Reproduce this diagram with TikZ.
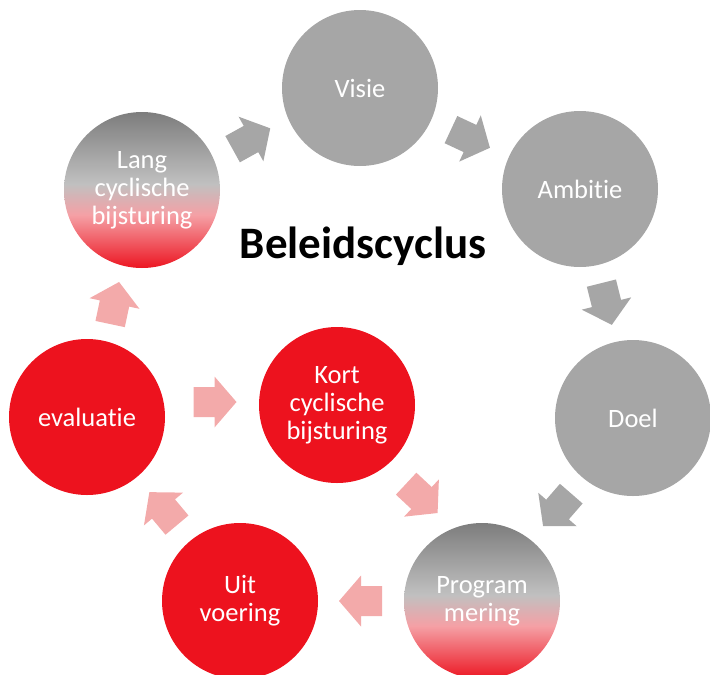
\documentclass[tikz,border=0pt]{standalone}
\usepackage{fontspec}
\setmainfont{Carlito}[Ligatures=NoCommon]
\usetikzlibrary{calc}
\definecolor{cgray}{RGB}{166,166,166}
\definecolor{cred}{RGB}{237,18,30}
\definecolor{cpink}{RGB}{243,170,170}
\definecolor{gdark}{RGB}{125,125,125}
\definecolor{glight}{RGB}{192,192,192}
\definecolor{gpink}{RGB}{245,160,165}
\definecolor{gred}{RGB}{236,22,34}
\pgfdeclareverticalshading{cyclegrad}{100bp}{color(0bp)=(gred); color(25bp)=(gred); color(42bp)=(gpink); color(52bp)=(glight); color(75bp)=(gdark); color(100bp)=(gdark)}
\tikzset{
  blockarr/.pic={\fill[pic actions] (-21,-15) -- (0,-15) -- (0,-25.5) -- (22,0) -- (0,25.5) -- (0,15) -- (-21,15) -- cycle;},
  disc/.style={circle, minimum size=156pt, inner sep=0pt, align=center, text=white,
    font=\fontsize{26.5}{28}\selectfont},
  grayc/.style={disc, fill=cgray},
  redc/.style={disc, fill=cred},
  gradc/.style={disc, shading=cyclegrad, shading angle=0},
  garr/.style={fill=cgray},
  parr/.style={fill=cpink},
  titletext/.style={font=\fontsize{45}{52}\selectfont\bfseries, text=black, anchor=base}
}
\begin{document}
\begin{tikzpicture}[x=1pt,y=-1pt]
\useasboundingbox (0,0) rectangle (710,675);
\clip (0,0) rectangle (710,675);
\node[grayc] (visie) at (360,88) {Visie};
\node[grayc] (ambitie) at (580,189) {Ambitie};
\node[grayc] (doel) at (633,418) {Doel};
\node[gradc] (prog) at (482,601) {Program\\mering};
\node[redc] (uit) at (240,601) {Uit\\voering};
\node[redc] (evaluatie) at (87,417) {evaluatie};
\node[gradc] (lang) at (142,190) {Lang\\cyclische\\bijsturing};
\node[redc] (kort) at (337,405) {Kort\\cyclische\\bijsturing};
\node[titletext] (title) at (363,258) {Beleidscyclus};
% ring arrows
\pic[garr, rotate=29] at ($(lang)!0.5!(visie)$) {blockarr};
\pic[garr, rotate=-25] at ($(visie)!0.5!(ambitie)$) {blockarr};
\pic[garr, rotate=-76] at ($(ambitie)!0.5!(doel)$) {blockarr};
\pic[garr, rotate=-131] at ($(doel)!0.5!(prog)$) {blockarr};
\pic[parr, rotate=180] at ($(prog)!0.5!(uit)$) {blockarr};
\pic[parr, rotate=130] at ($(uit)!0.5!(evaluatie)$) {blockarr};
\pic[parr, rotate=78] at ($(evaluatie)!0.5!(lang)$) {blockarr};
% inner arrows
\pic[parr, rotate=0] at ($(evaluatie)!0.5!(kort)+(2.5,-9)$) {blockarr};
\pic[parr, rotate=-43] at ($(kort)!0.5!(prog)+(12,-5)$) {blockarr};
\end{tikzpicture}
\end{document}
